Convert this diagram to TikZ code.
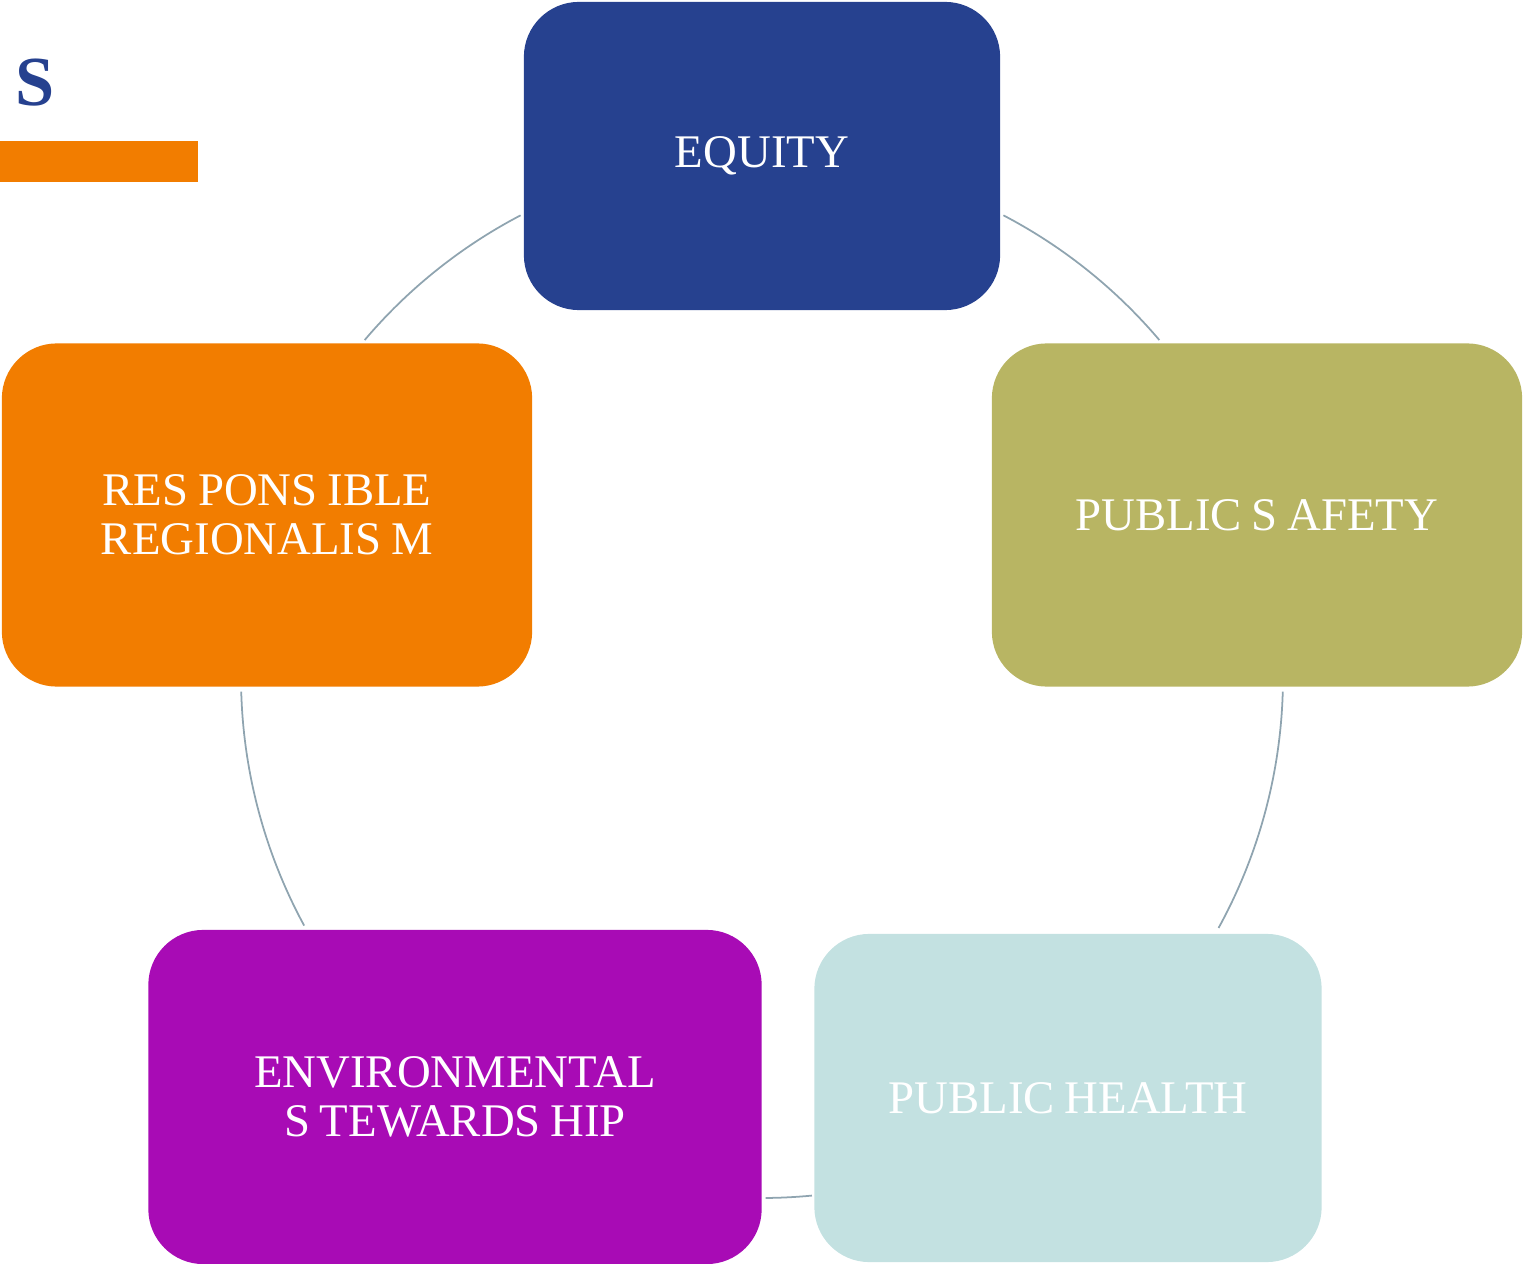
\documentclass[tikz,border=0pt]{standalone}
\usepackage{fontspec}
\usetikzlibrary{positioning, calc}
\newfontfamily\pillarfont{Liberation Serif}
\definecolor{equityBlue}{HTML}{26418F}
\definecolor{safetyOlive}{HTML}{B8B563}
\definecolor{healthTeal}{HTML}{C3E1E1}
\definecolor{stewardPurple}{HTML}{A80BB5}
\definecolor{regionOrange}{HTML}{F27D00}
\definecolor{ringGray}{HTML}{8FA4B0}

\begin{document}
\begin{tikzpicture}[
    x=0.01cm, y=-0.01cm,
    pillarBox/.style={rectangle, rounded corners=0.55cm, text=white, align=center,
        inner sep=0pt, font={\pillarfont\fontsize{13.3}{14}\selectfont\spaceskip=0.21em}},
    ring/.style={draw=ringGray, line width=0.5pt}
]
    \useasboundingbox (0,0) rectangle (1524,1264);

    % --- TITLE CORNER ---
    \node[text=equityBlue, font={\pillarfont\bfseries\fontsize{20}{22}\selectfont}] (initial) at (35,83) {S};
    \fill[regionOrange] (0,141) rectangle (198,182);

    % --- CYCLE RING ---
    \coordinate (hub) at (762,677);

    % Equity -> Public Safety
    \draw[ring] (hub) ++(-62.4:521) arc[start angle=-62.4, end angle=-40.3, radius=521];
    % Public Safety -> Public Health
    \draw[ring] (hub) ++(1.6:521) arc[start angle=1.6, end angle=28.8, radius=521];
    % Public Health -> Environmental Stewardship
    \draw[ring] (hub) ++(84.5:521) arc[start angle=84.5, end angle=89.6, radius=521];
    % Environmental Stewardship -> Responsible Regionalism
    \draw[ring] (hub) ++(151.5:521) arc[start angle=151.5, end angle=178.4, radius=521];
    % Responsible Regionalism -> Equity
    \draw[ring] (hub) ++(220.3:521) arc[start angle=220.3, end angle=242.4, radius=521];

    % --- PILLARS ---
    \node[pillarBox, fill=equityBlue, minimum width=4.76cm, minimum height=3.08cm] (equity) at (762,156) {EQUITY};
    \node[pillarBox, fill=safetyOlive, minimum width=5.30cm, minimum height=3.43cm] (safety) at (1257,515) {PUBLIC S AFETY};
    \node[pillarBox, fill=healthTeal, minimum width=5.07cm, minimum height=3.28cm] (health) at (1068,1098) {PUBLIC HEALTH};
    \node[pillarBox, fill=stewardPurple, minimum width=6.13cm, minimum height=3.34cm] (stewardship) at (455,1097) {ENVIRONMENTAL\\S TEWARDS HIP};
    \node[pillarBox, fill=regionOrange, minimum width=5.30cm, minimum height=3.43cm] (regionalism) at (267,515) {RES PONS IBLE\\REGIONALIS M};

\end{tikzpicture}
\end{document}
